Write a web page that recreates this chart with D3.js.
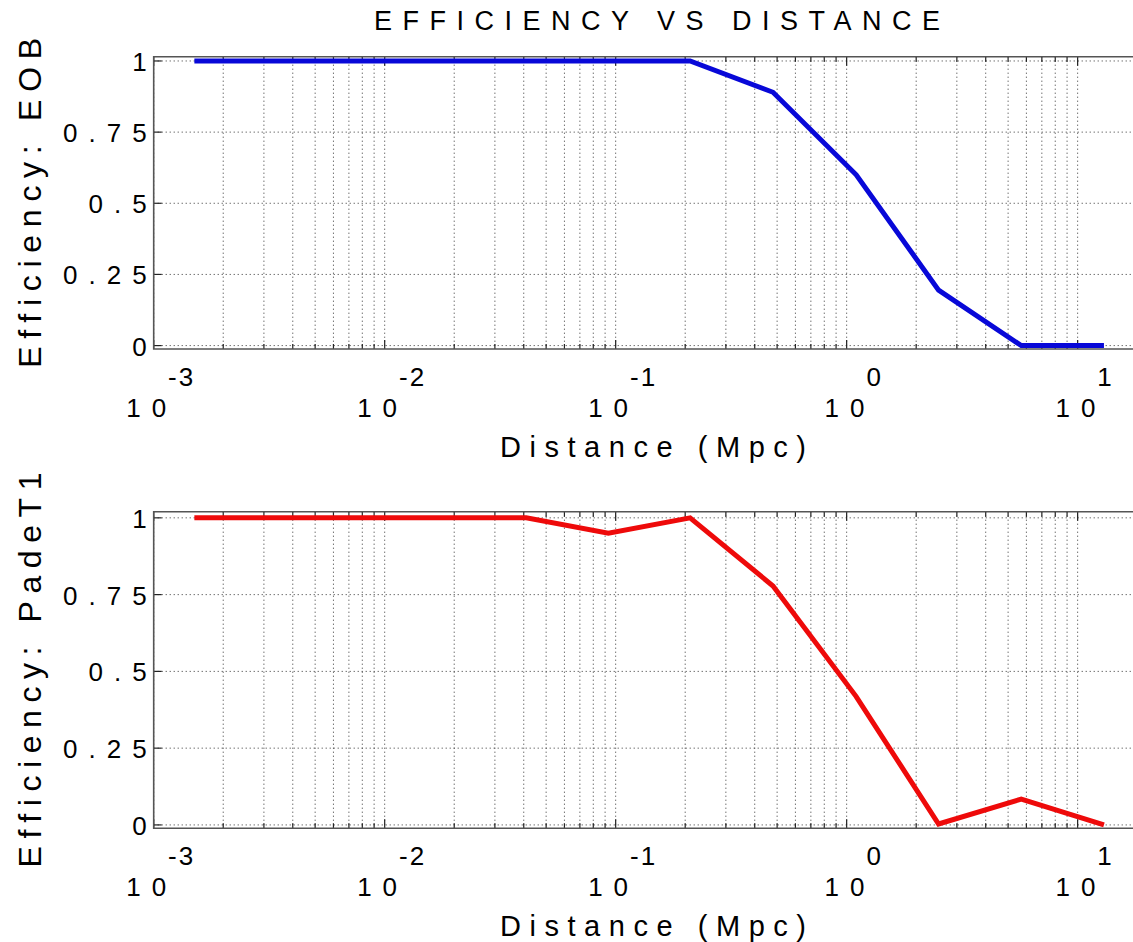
<!DOCTYPE html>
<html>
<head>
<meta charset="utf-8">
<script src="https://cdn.jsdelivr.net/npm/d3@7"></script>
<style>
    body { margin: 0; background: #fff; }
    svg { display: block; }
    text { font-family: "Liberation Sans", Arial, Helvetica, sans-serif; fill: #000; }
</style>
</head>
<body>
<svg id="chart" width="1133" height="942"></svg>
<script>
// distances (Mpc) the efficiency was measured at
var distance = [0.0015, 0.0034, 0.0078, 0.018, 0.041, 0.093, 0.21, 0.48, 1.1, 2.5, 5.7, 13];
var effEOB = [1, 1, 1, 1, 1, 1, 1, 0.89, 0.60, 0.195, 0, 0];
var effPade = [1, 1, 1, 1, 1, 0.95, 1, 0.778, 0.418, 0.003, 0.084, 0];

var yTicks = [0, 0.25, 0.5, 0.75, 1];
var yTickLabels = ["0", "0.25", "0.5", "0.75", "1"];
var decades = [-3, -2, -1, 0, 1];

var svg = d3.select("#chart");

// shared log x scale (right edge of the axes is beyond the picture)
var x = d3.scaleLog()
    .domain([1e-3, Math.pow(10, 1.27)])
    .range([153.7, 1140]);

// minor grid positions 2..9 x 10^k
var minorTicks = [];
decades.forEach(function(k) {
    for (var m = 2; m <= 9; m++) {
        var v = m * Math.pow(10, k);
        if (v < x.domain()[1]) minorTicks.push(v);
    }
});
var majorTicks = decades.map(function(k) { return Math.pow(10, k); });

svg.append("text")
    .attr("x", 657)
    .attr("y", 30)
    .attr("text-anchor", "middle")
    .attr("textLength", 566)
    .attr("lengthAdjust", "spacing")
    .style("font-size", "27px")
    .text("EFFICIENCY VS DISTANCE");

function drawPanel(cfg) {
    var y = d3.scaleLinear()
        .domain(cfg.yDomain)
        .range([cfg.bottom, cfg.top]);

    var g = svg.append("g");
    var x0 = x.range()[0], x1 = x.range()[1];

    // dotted grid
    g.selectAll(".vgrid")
        .data(minorTicks.concat(majorTicks))
        .enter()
        .append("line")
        .attr("x1", function(d) { return x(d); })
        .attr("x2", function(d) { return x(d); })
        .attr("y1", cfg.top)
        .attr("y2", cfg.bottom)
        .attr("stroke", "#333")
        .attr("stroke-width", 1)
        .attr("stroke-dasharray", "1,3");

    g.selectAll(".hgrid")
        .data(yTicks)
        .enter()
        .append("line")
        .attr("x1", x0)
        .attr("x2", x1)
        .attr("y1", function(d) { return y(d); })
        .attr("y2", function(d) { return y(d); })
        .attr("stroke", "#333")
        .attr("stroke-width", 1)
        .attr("stroke-dasharray", "1,3");

    // inside ticks on top and bottom edges
    var tickData = majorTicks.map(function(v) { return { v: v, len: 9 }; })
        .concat(minorTicks.map(function(v) { return { v: v, len: 5 }; }));
    [cfg.bottom, cfg.top].forEach(function(edge, i) {
        g.selectAll(".xt" + i)
            .data(tickData)
            .enter()
            .append("line")
            .attr("x1", function(d) { return x(d.v); })
            .attr("x2", function(d) { return x(d.v); })
            .attr("y1", edge)
            .attr("y2", function(d) { return i == 0 ? edge - d.len : edge + d.len; })
            .attr("stroke", "#222")
            .attr("stroke-width", 1.2);
    });

    g.selectAll(".yt")
        .data(yTicks)
        .enter()
        .append("line")
        .attr("x1", x0)
        .attr("x2", x0 + 8)
        .attr("y1", function(d) { return y(d); })
        .attr("y2", function(d) { return y(d); })
        .attr("stroke", "#222")
        .attr("stroke-width", 1.2);

    // data line
    var line = d3.line()
        .x(function(d, i) { return x(distance[i]); })
        .y(function(d) { return y(d); });

    g.append("path")
        .datum(cfg.values)
        .attr("d", line)
        .attr("fill", "none")
        .attr("stroke", cfg.color)
        .attr("stroke-width", 5)
        .attr("stroke-linejoin", "miter");

    // axes box (left, top, bottom)
    g.append("path")
        .attr("d", "M" + x1 + "," + cfg.top + "H" + x0 + "V" + cfg.bottom + "H" + x1)
        .attr("fill", "none")
        .attr("stroke", "#555")
        .attr("stroke-width", 1.6);

    // y tick labels
    g.selectAll(".ylab")
        .data(yTicks)
        .enter()
        .append("text")
        .attr("x", x0 - 7 + 11)
        .attr("y", function(d) { return y(d) + 10; })
        .attr("text-anchor", "end")
        .style("font-size", "26px")
        .style("letter-spacing", "11px")
        .text(function(d, i) { return yTickLabels[i]; });

    // x tick labels 10^k
    var xl = g.selectAll(".xlab")
        .data(decades)
        .enter()
        .append("text")
        .attr("x", function(d) { return x(Math.pow(10, d)) + 7; })
        .attr("y", cfg.bottom + 68)
        .attr("text-anchor", "middle")
        .style("font-size", "26px");
    xl.append("tspan")
        .style("letter-spacing", "11px")
        .text("10");
    xl.append("tspan")
        .attr("dx", -9)
        .attr("dy", -31)
        .style("letter-spacing", "2px")
        .text(function(d) { return d; });

    // axis labels
    g.append("text")
        .attr("x", 653)
        .attr("y", cfg.bottom + 108)
        .attr("text-anchor", "middle")
        .attr("textLength", 306)
        .attr("lengthAdjust", "spacing")
        .style("font-size", "29px")
        .text("Distance (Mpc)");

    g.append("text")
        .attr("transform", "translate(41," + ((cfg.top + cfg.bottom) / 2) + ") rotate(-90)")
        .attr("text-anchor", "middle")
        .attr("textLength", cfg.ylabelLength)
        .attr("lengthAdjust", "spacing")
        .style("font-size", "32px")
        .text(cfg.ylabel);
}

drawPanel({
    top: 56.7, bottom: 349, yDomain: [-0.012, 1.015],
    values: effEOB, color: "#0808d8",
    ylabel: "Efficiency: EOB", ylabelLength: 330
});

drawPanel({
    top: 511.7, bottom: 828.3, yDomain: [-0.011, 1.02],
    values: effPade, color: "#ee0a0a",
    ylabel: "Efficiency: PadeT1", ylabelLength: 395
});
</script>
</body>
</html>
